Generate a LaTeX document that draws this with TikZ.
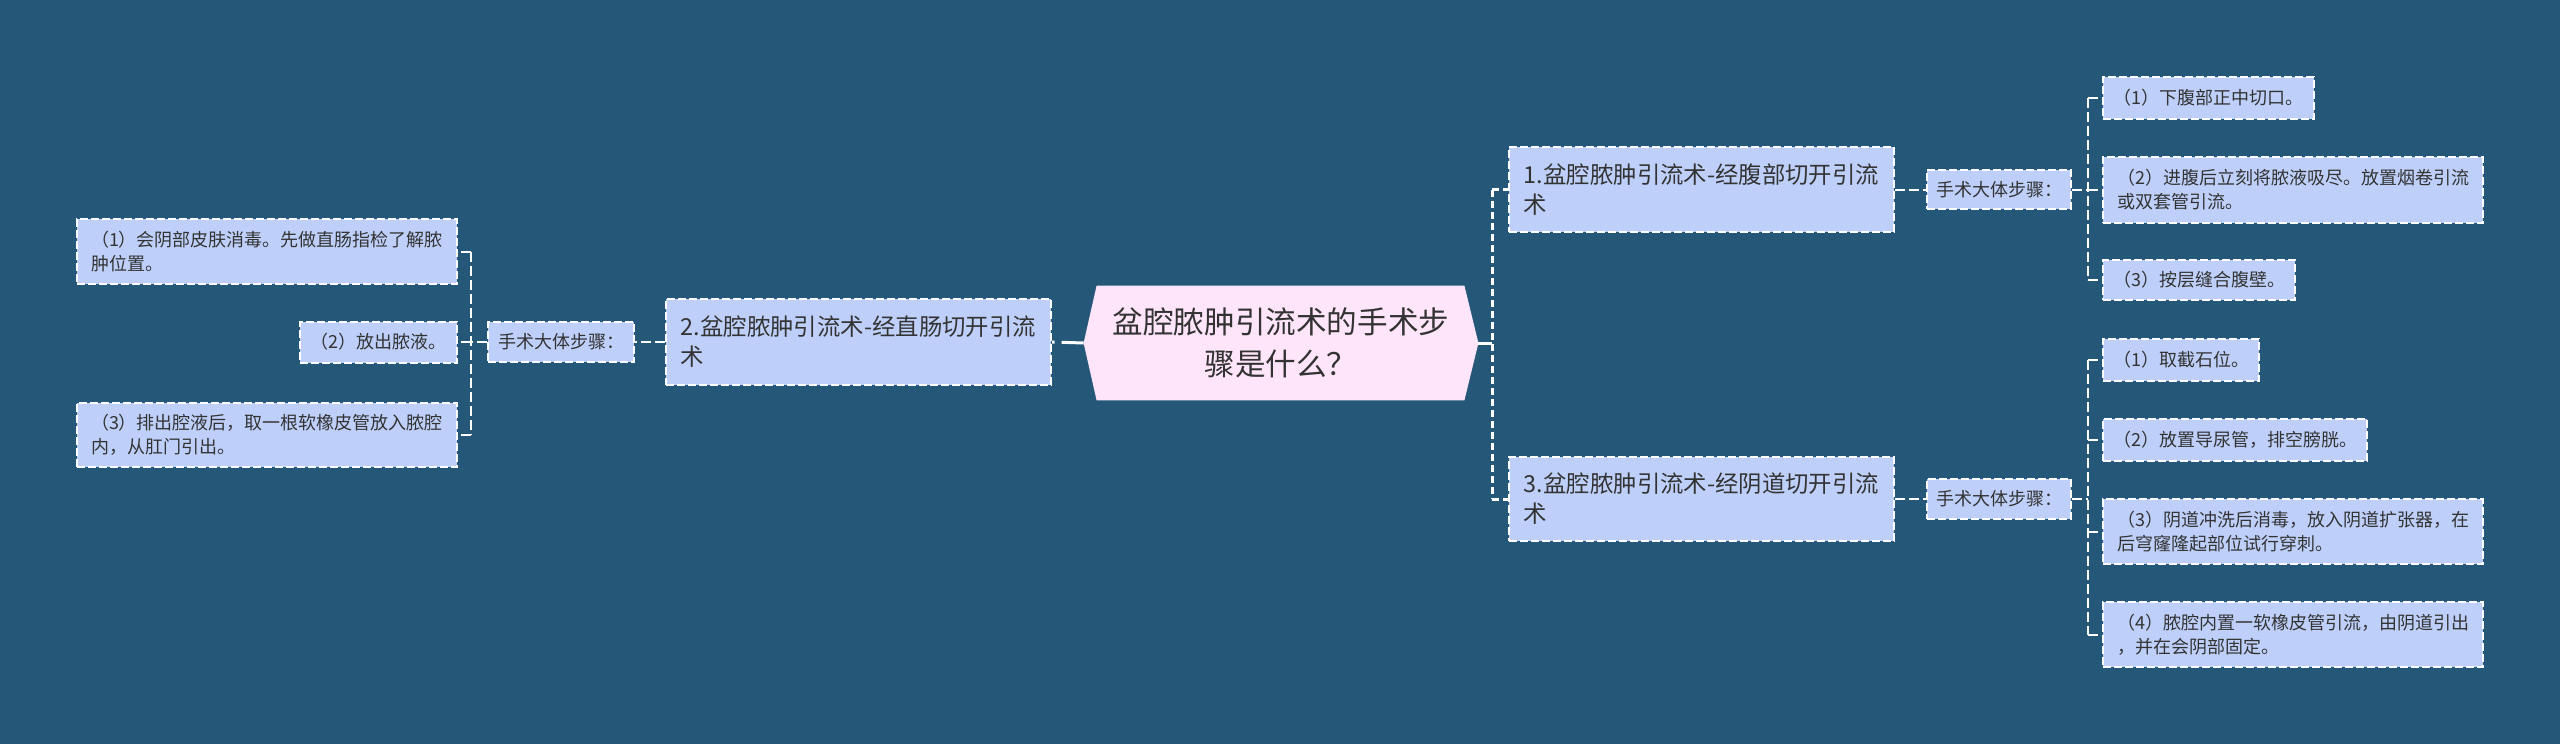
\documentclass[tikz,border=0pt]{standalone}
\usepackage{fontspec}
\setmainfont{Noto Sans CJK SC}
\usetikzlibrary{backgrounds}
\definecolor{bgc}{HTML}{245778}
\definecolor{nodefill}{HTML}{BED0FA}
\definecolor{rootfill}{HTML}{FFE5F9}
\definecolor{textc}{HTML}{333333}
\tikzset{
  boxbase/.style={draw=white, line width=1pt, dash pattern=on 4pt off 1.5pt,
    fill=nodefill, text=textc, inner sep=0pt, align=left},
  leaf/.style={boxbase, font=\fontsize{9}{12}\selectfont},
  topic/.style={boxbase, font=\fontsize{11.7}{15}\selectfont},
  rootnode/.style={text=textc, inner sep=0pt, align=center,
    font=\fontsize{15.3}{21}\selectfont, minimum width=197pt, minimum height=57pt},
  conn/.style={draw=white, line width=1pt, dash pattern=on 5pt off 2pt},
  rootbus/.style={draw=white, line width=1.5pt, dash pattern=on 3.5pt off 2pt},
  rootline/.style={draw=white, line width=1.5pt},
}
\begin{document}
\begin{tikzpicture}[x=0.5pt,y=-0.5pt]
\useasboundingbox (0,0) rectangle (2560,744);
% root
\node[rootnode] (root) at (1281,343) {盆腔脓肿引流术的手术步\\骤是什么？};
\begin{scope}[on background layer]
\fill[bgc] (0,0) rectangle (2560,744);
\fill[rootfill] (root.west) -- ([xshift=6.5pt]root.north west) -- ([xshift=-7pt]root.north east)
  -- (root.east) -- ([xshift=-7pt]root.south east) -- ([xshift=6.5pt]root.south west) -- cycle;
\end{scope}
% topics
\node[topic, minimum width=192.5pt, minimum height=42.5pt] (N1) at (1701.5,189.5) {1.盆腔脓肿引流术-经腹部切开引流\\术};
\node[topic, minimum width=192.5pt, minimum height=42pt] (N3) at (1701.5,499) {3.盆腔脓肿引流术-经阴道切开引流\\术};
\node[topic, minimum width=192.5pt, minimum height=43pt] (N2) at (858.5,342) {2.盆腔脓肿引流术-经直肠切开引流\\术};
% step labels
\node[leaf, minimum width=72pt, minimum height=19.5pt] (S1) at (1999,189.5) {手术大体步骤：};
\node[leaf, minimum width=72pt, minimum height=20pt] (S3) at (1999,499) {手术大体步骤：};
\node[leaf, minimum width=73pt, minimum height=20pt] (S2) at (561,342) {手术大体步骤：};
% right top leaves
\node[leaf, minimum width=105.5pt, minimum height=21pt] (R1a) at (2208.5,98) {（1）下腹部正中切口。};
\node[leaf, minimum width=190pt, minimum height=33pt] (R1b) at (2293,189.5) {（2）进腹后立刻将脓液吸尽。放置烟卷引流\\或双套管引流。};
\node[leaf, minimum width=96pt, minimum height=20pt] (R1c) at (2199,280) {（3）按层缝合腹壁。};
% right bottom leaves
\node[leaf, minimum width=78pt, minimum height=21pt] (R3a) at (2181,360) {（1）取截石位。};
\node[leaf, minimum width=132pt, minimum height=21pt] (R3b) at (2235,440) {（2）放置导尿管，排空膀胱。};
\node[leaf, minimum width=190pt, minimum height=32.5pt] (R3c) at (2293,531.5) {（3）阴道冲洗后消毒，放入阴道扩张器，在\\后穹窿隆起部位试行穿刺。};
\node[leaf, minimum width=190pt, minimum height=32.5pt] (R3d) at (2293,634.5) {（4）脓腔内置一软橡皮管引流，由阴道引出\\，并在会阴部固定。};
% left leaves
\node[leaf, minimum width=190pt, minimum height=32.5pt] (L1) at (267,251.5) {（1）会阴部皮肤消毒。先做直肠指检了解脓\\肿位置。};
\node[leaf, minimum width=78.5pt, minimum height=20.5pt] (L2) at (378.5,342) {（2）放出脓液。};
\node[leaf, minimum width=190pt, minimum height=32pt] (L3) at (267,435) {（3）排出腔液后，取一根软橡皮管放入脓腔\\内，从肛门引出。};
% root connectors
\draw[rootline, dash pattern=on 11pt off 3.5pt] (root.west) -- (N2.east);
\coordinate (rb) at ([xshift=7pt]root.east);
\draw[rootline] (root.east) -- (rb);
\draw[rootbus] (rb |- N1.west) -- (rb |- N3.west);
\draw[rootbus] (rb |- N1.west) -- (N1.west);
\draw[rootbus] (rb |- N3.west) -- (N3.west);
% group 1
\draw[conn] (N1.east) -- (S1.west);
\coordinate (b1) at ([xshift=8pt]S1.east);
\draw[conn] (S1.east) -- (b1);
\draw[conn] (b1 |- R1a.west) -- (b1 |- R1c.west);
\draw[conn] (b1 |- R1a.west) -- (R1a.west);
\draw[conn] (b1 |- R1b.west) -- (R1b.west);
\draw[conn] (b1 |- R1c.west) -- (R1c.west);
% group 3
\draw[conn] (N3.east) -- (S3.west);
\coordinate (b3) at ([xshift=8pt]S3.east);
\draw[conn] (S3.east) -- (b3);
\draw[conn] (b3 |- R3a.west) -- (b3 |- R3d.west);
\draw[conn] (b3 |- R3a.west) -- (R3a.west);
\draw[conn] (b3 |- R3b.west) -- (R3b.west);
\draw[conn] (b3 |- R3c.west) -- (R3c.west);
\draw[conn] (b3 |- R3d.west) -- (R3d.west);
% group 2
\draw[conn] (N2.west) -- (S2.east);
\coordinate (b2) at ([xshift=-8pt]S2.west);
\draw[conn] (S2.west) -- (b2);
\draw[conn] (b2 |- L1.east) -- (b2 |- L3.east);
\draw[conn] (b2 |- L1.east) -- (L1.east);
\draw[conn] (b2 |- L2.east) -- (L2.east);
\draw[conn] (b2 |- L3.east) -- (L3.east);
\end{tikzpicture}
\end{document}
